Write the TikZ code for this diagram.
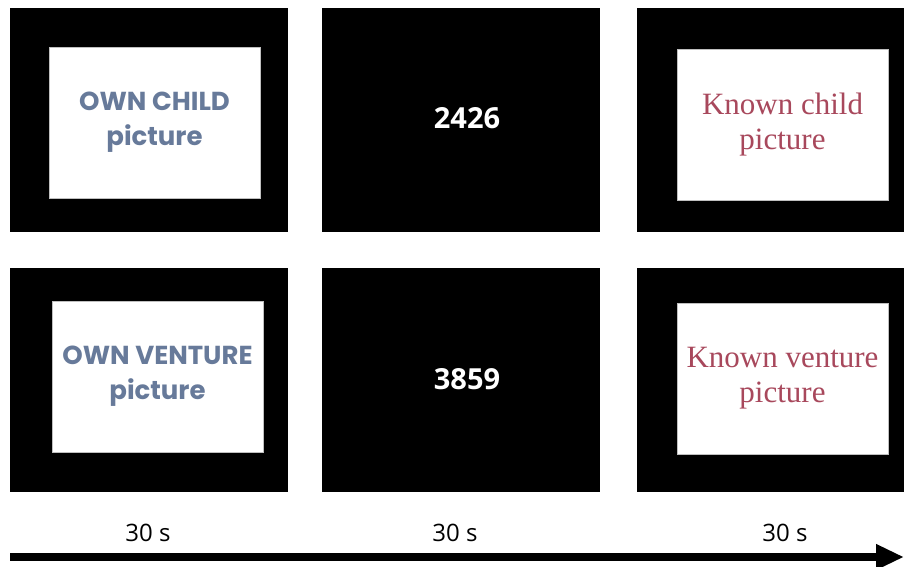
\documentclass[tikz,border=0pt]{standalone}
\usepackage{fontspec}
\usetikzlibrary{arrows.meta,positioning}
\setmainfont{Liberation Serif}
\newfontfamily\ownfont{Poppins}
\newfontfamily\numfont{Open Sans}
\definecolor{ownblue}{RGB}{103,122,154}
\definecolor{knownred}{RGB}{168,72,92}
\tikzset{screen/.style = {fill=black, minimum width=278pt, minimum height=224pt, inner sep=0pt},
  photo/.style = {fill=white, draw=black!25, line width=.6pt, minimum width=211pt,
    minimum height=151pt, align=center, inner sep=0pt},
  own/.style = {photo, text=ownblue, font=\ownfont\bfseries\fontsize{26}{35}\selectfont},
  known/.style = {photo, text=knownred, font=\fontsize{31}{35}\selectfont},
  digits/.style = {text=white, font=\numfont\bfseries\fontsize{29}{35}\selectfont},
  dur/.style = {font=\numfont\fontsize{24}{28}\selectfont},
  timeline/.style = {line width=8pt, -{Triangle[length=28pt,width=24pt]}}}

\begin{document}
\begin{tikzpicture}[x=1pt, y=-1pt]
  \clip (0,0) rectangle (904,567);
  % screens
  \node[screen] (s11) at (149,120) {};
  \node[screen] (s12) at (461,120) {};
  \node[screen] (s13) at (776,120) {};
  \node[screen] (s21) at (149,380) {};
  \node[screen] (s22) at (461,380) {};
  \node[screen] (s23) at (776,380) {};
  % first row
  \node[own] (p11) at (154.5,122.5) {OWN CHILD\\picture};
  \node[digits] (n12) at (467,118) {2426};
  \node[known] (p13) at (782.5,124.5) {Known child\\picture};
  % second row
  \node[own] (p21) at (157.5,376.5) {OWN VENTURE\\picture};
  \node[digits] (n22) at (467,379) {3859};
  \node[known] (p23) at (782.5,378.5) {Known venture\\picture};
  % time axis
  \node[dur] (d1) at (148,533) {30 s};
  \node[dur] (d2) at (455,533) {30 s};
  \node[dur] (d3) at (785,533) {30 s};
  \coordinate (t0) at (10,557);
  \coordinate (t1) at (904,557);
  \draw[timeline] (t0) -- (t1);
\end{tikzpicture}
\end{document}
